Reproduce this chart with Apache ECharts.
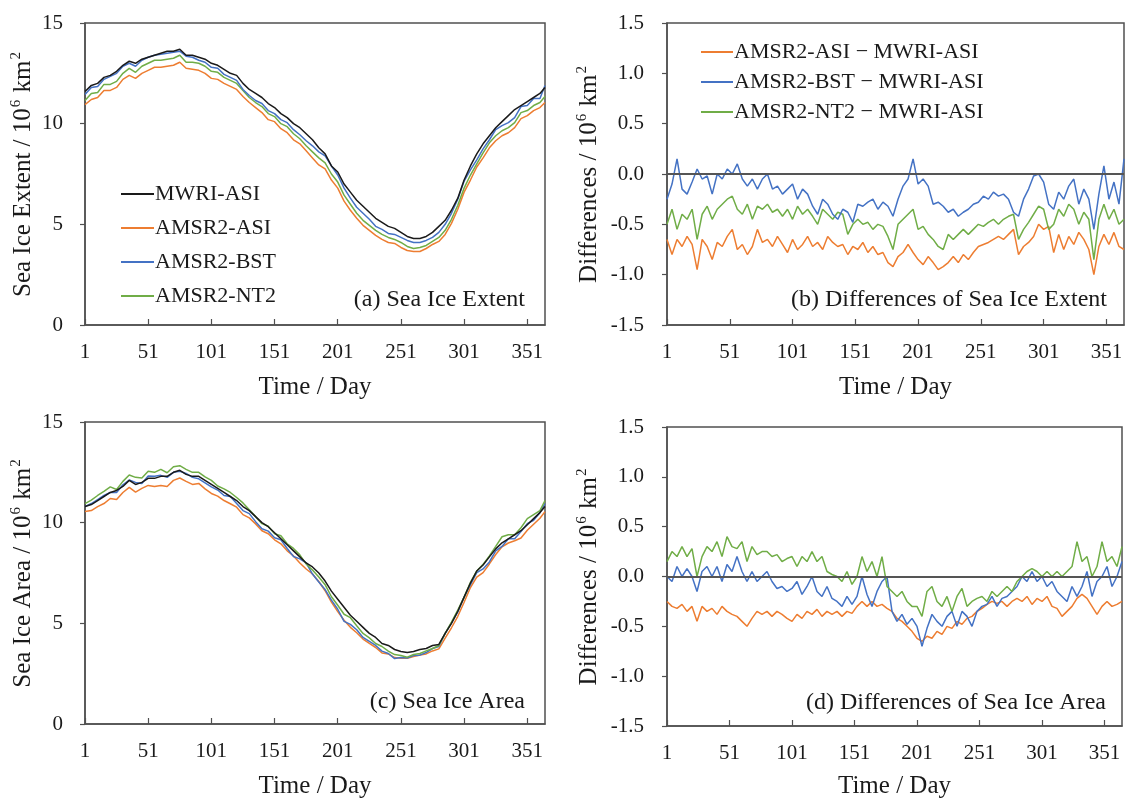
<!DOCTYPE html>
<html>
<head>
<meta charset="utf-8">
<script src="https://cdn.jsdelivr.net/npm/echarts@6/dist/echarts.min.js"></script>
<style>html,body{margin:0;padding:0;background:#fff}#c{width:1126px;height:800px}</style>
</head>
<body>
<div id="c"></div>
<script>
// ---------- data ----------
const xTicks = [1, 51, 101, 151, 201, 251, 301, 351];

const days5 = [1,6,11,16,21,26,31,36,41,46,51,56,61,66,71,76,81,86,91,96,101,106,111,116,121,126,131,136,141,146,151,156,161,166,171,176,181,186,191,196,201,206,211,216,221,226,231,236,241,246,251,256,261,266,271,276,281,286,291,296,301,306,311,316,321,326,331,336,341,346,351,356,361,365];
const days4 = [1,5,9,13,17,21,25,29,33,37,41,45,49,53,57,61,65,69,73,77,81,85,89,93,97,101,105,109,113,117,121,125,129,133,137,141,145,149,153,157,161,165,169,173,177,181,185,189,193,197,201,205,209,213,217,221,225,229,233,237,241,245,249,253,257,261,265,269,273,277,281,285,289,293,297,301,305,309,313,317,321,325,329,333,337,341,345,349,353,357,361,365];

// (a) Sea ice extent, 10^6 km2
const extMWRI = [11.6,11.9,12.0,12.3,12.4,12.6,12.9,13.1,13.0,13.2,13.3,13.4,13.5,13.6,13.6,13.7,13.4,13.4,13.3,13.2,13.0,12.9,12.7,12.5,12.4,12.0,11.7,11.5,11.3,11.0,10.8,10.5,10.3,10.0,9.8,9.5,9.2,8.8,8.5,7.9,7.6,7.0,6.6,6.2,5.9,5.6,5.3,5.1,4.9,4.8,4.6,4.4,4.3,4.3,4.4,4.6,4.9,5.2,5.7,6.3,7.2,7.9,8.5,9.0,9.4,9.8,10.1,10.4,10.7,10.9,11.1,11.3,11.5,11.8];
const extASI  = [10.95,11.2,11.3,11.65,11.65,11.8,12.2,12.4,12.25,12.5,12.65,12.8,12.8,12.85,12.9,13.05,12.75,12.7,12.65,12.5,12.25,12.2,12.0,11.85,11.7,11.35,11.05,10.8,10.55,10.2,10.1,9.75,9.55,9.2,9.0,8.65,8.3,7.95,7.75,7.2,6.8,6.15,5.7,5.3,4.95,4.7,4.45,4.25,4.1,4.05,3.85,3.7,3.65,3.65,3.8,4.0,4.15,4.5,5.05,5.75,6.6,7.2,7.85,8.3,8.8,9.15,9.4,9.55,9.8,10.25,10.4,10.65,10.8,11.05];
const extBST  = [11.45,11.8,11.85,12.2,12.35,12.5,12.85,13.0,12.85,13.15,13.3,13.4,13.45,13.5,13.55,13.6,13.35,13.3,13.15,13.05,12.8,12.75,12.45,12.3,12.15,11.7,11.4,11.15,11.0,10.65,10.5,10.2,10.05,9.7,9.45,9.15,8.9,8.6,8.4,7.9,7.45,6.8,6.3,5.85,5.55,5.25,4.9,4.75,4.55,4.5,4.35,4.2,4.1,4.1,4.2,4.35,4.6,5.0,5.55,6.25,7.15,7.7,8.2,8.75,9.2,9.7,9.9,10.05,10.3,10.85,10.9,11.25,11.25,11.9];
const extNT2  = [11.15,11.5,11.55,11.95,11.95,12.1,12.5,12.75,12.55,12.85,13.0,13.15,13.15,13.2,13.25,13.4,13.05,13.05,13.0,12.85,12.6,12.55,12.3,12.15,12.0,11.65,11.3,11.05,10.85,10.5,10.35,10.0,9.85,9.5,9.25,8.9,8.6,8.3,8.05,7.5,7.1,6.45,6.0,5.55,5.2,4.95,4.7,4.5,4.35,4.25,4.1,3.9,3.8,3.85,3.95,4.15,4.35,4.7,5.25,5.95,6.8,7.45,8.0,8.55,9.05,9.4,9.65,9.8,10.05,10.55,10.65,10.9,11.05,11.35];

// (b) Differences of sea ice extent
const dExtASI = [-0.65,-0.8,-0.65,-0.72,-0.62,-0.7,-0.95,-0.65,-0.72,-0.85,-0.68,-0.72,-0.62,-0.55,-0.75,-0.7,-0.8,-0.72,-0.55,-0.68,-0.65,-0.72,-0.62,-0.7,-0.78,-0.65,-0.75,-0.7,-0.62,-0.72,-0.68,-0.75,-0.62,-0.68,-0.72,-0.7,-0.8,-0.72,-0.75,-0.68,-0.78,-0.72,-0.8,-0.78,-0.88,-0.92,-0.82,-0.78,-0.7,-0.78,-0.85,-0.9,-0.82,-0.88,-0.95,-0.92,-0.88,-0.82,-0.88,-0.8,-0.85,-0.78,-0.72,-0.7,-0.68,-0.65,-0.62,-0.65,-0.6,-0.55,-0.8,-0.72,-0.68,-0.62,-0.5,-0.55,-0.52,-0.78,-0.6,-0.75,-0.62,-0.7,-0.58,-0.65,-0.75,-1.0,-0.72,-0.6,-0.7,-0.58,-0.72,-0.75];
const dExtBST = [-0.25,-0.1,0.15,-0.15,-0.2,-0.08,0.05,-0.05,-0.02,-0.2,0.0,-0.05,0.05,0.0,0.1,-0.05,-0.12,-0.05,-0.15,-0.05,0.0,-0.15,-0.12,-0.2,-0.15,-0.1,-0.25,-0.15,-0.2,-0.32,-0.4,-0.25,-0.3,-0.4,-0.45,-0.35,-0.38,-0.48,-0.3,-0.32,-0.28,-0.25,-0.35,-0.28,-0.32,-0.42,-0.25,-0.12,-0.05,0.15,-0.1,-0.05,-0.12,-0.3,-0.28,-0.32,-0.38,-0.35,-0.42,-0.38,-0.35,-0.3,-0.28,-0.22,-0.25,-0.18,-0.22,-0.2,-0.25,-0.38,-0.42,-0.25,-0.15,-0.02,0.0,-0.08,-0.3,-0.35,-0.18,-0.25,-0.12,-0.05,-0.3,-0.15,-0.25,-0.55,-0.2,0.08,-0.25,-0.08,-0.3,0.15];
const dExtNT2 = [-0.5,-0.35,-0.55,-0.4,-0.45,-0.35,-0.65,-0.4,-0.32,-0.45,-0.35,-0.3,-0.25,-0.22,-0.35,-0.4,-0.3,-0.45,-0.32,-0.35,-0.3,-0.38,-0.35,-0.42,-0.35,-0.45,-0.32,-0.4,-0.35,-0.42,-0.5,-0.35,-0.4,-0.45,-0.38,-0.4,-0.6,-0.5,-0.45,-0.5,-0.48,-0.55,-0.5,-0.52,-0.62,-0.75,-0.5,-0.45,-0.4,-0.35,-0.55,-0.52,-0.6,-0.65,-0.72,-0.75,-0.6,-0.65,-0.6,-0.55,-0.6,-0.55,-0.5,-0.52,-0.48,-0.45,-0.5,-0.45,-0.42,-0.4,-0.65,-0.55,-0.48,-0.4,-0.32,-0.35,-0.55,-0.5,-0.35,-0.42,-0.3,-0.35,-0.5,-0.38,-0.45,-0.85,-0.45,-0.3,-0.45,-0.35,-0.5,-0.45];

// (c) Sea ice area, 10^6 km2
const areaMWRI = [10.8,10.9,11.1,11.3,11.5,11.6,11.8,12.1,11.9,12.0,12.2,12.2,12.3,12.3,12.5,12.6,12.4,12.3,12.3,12.1,11.9,11.7,11.5,11.3,11.1,10.8,10.6,10.3,10.0,9.8,9.5,9.2,8.9,8.6,8.3,8.0,7.8,7.5,7.1,6.6,6.2,5.8,5.4,5.1,4.8,4.5,4.3,4.0,3.9,3.7,3.6,3.55,3.6,3.7,3.75,3.9,3.95,4.5,5.0,5.6,6.3,7.0,7.6,7.9,8.3,8.7,9.0,9.2,9.4,9.6,9.9,10.2,10.5,10.8];
const areaASI  = [10.55,10.6,10.8,10.95,11.2,11.15,11.5,11.75,11.52,11.7,11.85,11.8,11.85,11.8,12.1,12.22,12.05,11.9,11.95,11.68,11.45,11.32,11.1,10.94,10.77,10.4,10.24,9.94,9.6,9.45,9.15,8.95,8.6,8.35,8.0,7.7,7.45,7.08,6.62,6.05,5.58,5.15,4.8,4.53,4.22,4.0,3.8,3.53,3.48,3.3,3.27,3.26,3.35,3.43,3.48,3.63,3.73,4.26,4.78,5.35,6.05,6.78,7.29,7.52,7.95,8.42,8.8,8.99,9.1,9.24,9.62,9.92,10.22,10.55];
const areaBST  = [10.8,10.95,11.15,11.35,11.5,11.5,11.88,12.12,12.0,11.95,12.32,12.3,12.35,12.25,12.5,12.55,12.45,12.25,12.18,11.98,11.78,11.62,11.35,11.3,10.95,10.6,10.45,10.05,9.7,9.58,9.25,9.15,8.72,8.32,8.2,8.0,7.45,7.05,6.68,6.15,5.7,5.1,4.95,4.68,4.3,4.1,3.9,3.62,3.5,3.25,3.3,3.28,3.4,3.42,3.55,3.75,3.85,4.5,5.02,5.57,6.3,6.92,7.52,7.7,8.05,8.6,8.82,9.2,9.2,9.56,9.95,10.12,10.5,10.95];
const areaNT2  = [10.95,11.12,11.35,11.55,11.78,11.65,12.05,12.37,12.25,12.22,12.55,12.5,12.65,12.48,12.78,12.83,12.65,12.5,12.5,12.27,12.1,11.82,11.68,11.5,11.25,10.98,10.64,10.3,9.95,9.82,9.45,9.35,8.95,8.72,8.4,7.95,7.65,7.3,6.92,6.32,5.9,5.45,5.28,4.88,4.5,4.28,4.0,3.85,3.62,3.45,3.4,3.32,3.45,3.5,3.63,3.75,3.9,4.5,5.06,5.66,6.3,7.04,7.6,7.93,8.35,8.82,9.3,9.4,9.4,9.75,10.2,10.4,10.6,11.1];

// (d) Differences of sea ice area
const dAreaASI = [-0.25,-0.3,-0.32,-0.28,-0.35,-0.3,-0.45,-0.3,-0.35,-0.32,-0.38,-0.3,-0.35,-0.38,-0.4,-0.45,-0.5,-0.42,-0.35,-0.38,-0.35,-0.4,-0.35,-0.38,-0.42,-0.45,-0.38,-0.42,-0.35,-0.38,-0.33,-0.4,-0.35,-0.38,-0.35,-0.4,-0.35,-0.37,-0.3,-0.25,-0.3,-0.25,-0.3,-0.28,-0.32,-0.35,-0.42,-0.45,-0.5,-0.55,-0.62,-0.65,-0.6,-0.62,-0.55,-0.58,-0.5,-0.52,-0.45,-0.48,-0.42,-0.4,-0.35,-0.32,-0.28,-0.25,-0.27,-0.25,-0.3,-0.25,-0.22,-0.25,-0.2,-0.28,-0.22,-0.25,-0.2,-0.3,-0.32,-0.4,-0.35,-0.3,-0.22,-0.18,-0.22,-0.3,-0.38,-0.3,-0.25,-0.3,-0.28,-0.25];
const dAreaBST = [0.0,-0.05,0.1,0.0,0.08,0.0,-0.15,0.05,0.1,0.0,0.1,-0.05,0.12,0.05,0.2,0.05,-0.05,0.05,-0.05,0.0,0.05,-0.05,-0.12,-0.1,-0.15,-0.12,-0.05,-0.18,-0.1,0.0,-0.15,-0.2,-0.1,-0.22,-0.25,-0.3,-0.2,-0.28,-0.2,0.0,-0.18,-0.3,-0.15,-0.05,0.0,-0.35,-0.45,-0.38,-0.48,-0.42,-0.5,-0.7,-0.52,-0.38,-0.45,-0.5,-0.4,-0.35,-0.5,-0.35,-0.4,-0.5,-0.35,-0.3,-0.28,-0.2,-0.3,-0.22,-0.2,-0.15,-0.1,0.0,-0.05,0.05,-0.05,0.0,-0.1,-0.05,-0.15,-0.2,-0.25,-0.1,-0.2,-0.1,0.05,-0.2,-0.05,0.0,0.1,-0.1,0.0,0.15];
const dAreaNT2 = [0.15,0.25,0.2,0.3,0.2,0.28,0.0,0.2,0.3,0.25,0.35,0.2,0.4,0.3,0.28,0.35,0.15,0.3,0.22,0.25,0.25,0.2,0.22,0.15,0.18,0.2,0.1,0.2,0.15,0.25,0.15,0.2,0.05,0.02,0.0,-0.05,0.05,-0.08,0.0,0.2,0.05,0.15,0.0,0.2,-0.1,-0.15,-0.2,-0.15,-0.25,-0.3,-0.3,-0.4,-0.15,-0.1,-0.25,-0.3,-0.2,-0.35,-0.2,-0.12,-0.3,-0.25,-0.22,-0.2,-0.25,-0.15,-0.2,-0.15,-0.1,-0.15,-0.05,0.0,0.05,0.08,0.05,0.0,0.05,0.0,0.05,0.0,0.05,0.1,0.35,0.15,0.2,0.0,0.1,0.35,0.15,0.2,0.1,0.3];

const namesA = ['MWRI-ASI', 'AMSR2-ASI', 'AMSR2-BST', 'AMSR2-NT2'];
const namesB = ['AMSR2-ASI \u2212 MWRI-ASI', 'AMSR2-BST \u2212 MWRI-ASI', 'AMSR2-NT2 \u2212 MWRI-ASI'];

// ---------- styling ----------
const FONT = "'Liberation Serif', 'DejaVu Serif', serif";
const TXT = '#1a1a1a';
const AX = '#505050';
const C = { black: '#1a1a1a', orange: '#ED7D31', blue: '#4472C4', green: '#70AD47' };
const FS_TICK = 21, FS_TITLE = 25, FS_LEG = 22, FS_PANEL = 24;

const pair = (days, vals) => days.map((d, i) => [d, vals[i]]);

const grids = [
  { left: 85, top: 23, width: 460, height: 302 },
  { left: 667, top: 23, width: 457, height: 302 },
  { left: 85, top: 422, width: 460, height: 303 },
  { left: 667, top: 427, width: 455, height: 303 }
].map(g => Object.assign(g, { show: true, borderColor: AX, borderWidth: 1.5, backgroundColor: 'transparent', containLabel: false }));

function xAxis(i, gap) {
  return {
    type: 'value', gridIndex: i, min: 1, max: 365,
    name: 'Time / Day', nameLocation: 'middle', nameGap: gap,
    nameTextStyle: { fontFamily: FONT, fontSize: FS_TITLE, color: TXT },
    axisLine: { show: true, onZero: false, lineStyle: { color: AX, width: 1.5 } },
    axisTick: { show: true, inside: true, length: 6, customValues: xTicks, lineStyle: { color: AX, width: 1.2 } },
    axisLabel: { customValues: xTicks, fontFamily: FONT, fontSize: FS_TICK, color: TXT, margin: 17 },
    splitLine: { show: false }
  };
}
function rich() {
  return {
    t: { fontFamily: FONT, fontSize: FS_TITLE, color: TXT, lineHeight: 29 },
    s: { fontFamily: FONT, fontSize: 15, color: TXT, verticalAlign: 'top', lineHeight: 29, padding: [0, 1, 12, 1] }
  };
}
function yAxisAbs(i, label) {
  return {
    type: 'value', gridIndex: i, min: 0, max: 15, interval: 5,
    name: '{t|' + label + ' / 10}{s|6}{t| km}{s|2}', nameLocation: 'middle', nameGap: 47, nameRotate: 90,
    nameTextStyle: { rich: rich() },
    axisLine: { show: true, lineStyle: { color: AX, width: 1.5 } },
    axisTick: { show: true, inside: false, length: 5, lineStyle: { color: AX, width: 1.2 } },
    axisLabel: { fontFamily: FONT, fontSize: FS_TICK, color: TXT, margin: 22 },
    splitLine: { show: false }
  };
}
function yAxisDiff(i) {
  return {
    type: 'value', gridIndex: i, min: -1.5, max: 1.5, interval: 0.5,
    name: '{t|Differences / 10}{s|6}{t| km}{s|2}', nameLocation: 'middle', nameGap: 63, nameRotate: 90,
    nameTextStyle: { rich: rich() },
    axisLine: { show: true, lineStyle: { color: AX, width: 1.5 } },
    axisTick: { show: true, inside: false, length: 5, lineStyle: { color: AX, width: 1.2 } },
    axisLabel: { fontFamily: FONT, fontSize: FS_TICK, color: TXT, margin: 23, formatter: v => v.toFixed(1) },
    splitLine: { show: false }
  };
}
function line(name, i, days, vals, color, extra) {
  return Object.assign({
    type: 'line', name, xAxisIndex: i, yAxisIndex: i, data: pair(days, vals),
    symbol: 'none', smooth: false, lineStyle: { color, width: 1.5 }, itemStyle: { color },
    silent: true
  }, extra || {});
}
const zeroLine = {
  markLine: {
    silent: true, symbol: 'none', label: { show: false },
    lineStyle: { color: '#555', width: 2, type: 'solid' },
    data: [{ yAxis: 0 }]
  }
};

function panelTitle(text, right, top) {
  return { text, right, top, padding: 0,
    textStyle: { fontFamily: FONT, fontSize: FS_PANEL, lineHeight: 24, fontWeight: 'normal', color: TXT } };
}

const legendText = { fontFamily: FONT, fontSize: FS_LEG, lineHeight: 22, color: TXT, padding: [0, 0, 0, -4] };

const option = {
  animation: false,
  backgroundColor: '#fff',
  grid: grids,
  xAxis: [xAxis(0, 50), xAxis(1, 50), xAxis(2, 50), xAxis(3, 48)],
  yAxis: [yAxisAbs(0, 'Sea Ice Extent'), yAxisDiff(1), yAxisAbs(2, 'Sea Ice Area'), yAxisDiff(3)],
  title: [
    panelTitle('(a) Sea Ice Extent', 601, 288),
    panelTitle('(b) Differences of Sea Ice Extent', 19, 288),
    panelTitle('(c) Sea Ice Area', 601, 690),
    panelTitle('(d) Differences of Sea Ice Area', 20, 691)
  ],
  legend: [
    {
      data: namesA, orient: 'vertical', left: 121, top: 183, itemGap: 12,
      icon: 'rect', itemWidth: 33, itemHeight: 2, padding: 0, textStyle: legendText
    },
    {
      data: namesB, orient: 'vertical', left: 701, top: 41, itemGap: 8,
      icon: 'rect', itemWidth: 32, itemHeight: 2, padding: 0, textStyle: legendText
    }
  ],
  series: [
    line('AMSR2-ASI', 0, days5, extASI, C.orange),
    line('AMSR2-NT2', 0, days5, extNT2, C.green),
    line('AMSR2-BST', 0, days5, extBST, C.blue),
    line('MWRI-ASI', 0, days5, extMWRI, C.black),

    line(namesB[0], 1, days4, dExtASI, C.orange, zeroLine),
    line(namesB[2], 1, days4, dExtNT2, C.green),
    line(namesB[1], 1, days4, dExtBST, C.blue),

    line('AMSR2-ASI', 2, days5, areaASI, C.orange),
    line('AMSR2-BST', 2, days5, areaBST, C.blue),
    line('AMSR2-NT2', 2, days5, areaNT2, C.green),
    line('MWRI-ASI', 2, days5, areaMWRI, C.black),

    line(namesB[0], 3, days4, dAreaASI, C.orange, zeroLine),
    line(namesB[1], 3, days4, dAreaBST, C.blue),
    line(namesB[2], 3, days4, dAreaNT2, C.green)
  ]
};

const chart = echarts.init(document.getElementById('c'), null, { renderer: 'canvas' });
chart.setOption(option);
</script>
</body>
</html>
